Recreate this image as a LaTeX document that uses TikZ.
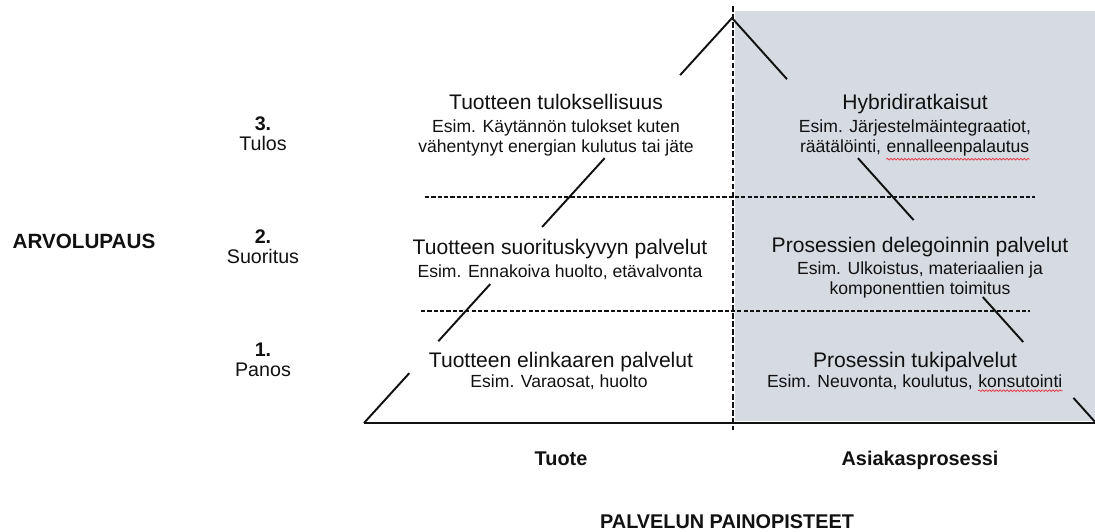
\documentclass[tikz,border=0pt]{standalone}
\usepackage{fontspec}
\setmainfont{Liberation Sans}
\usepackage{tikz}
\usetikzlibrary{calc,decorations.pathmorphing}
\definecolor{panel}{HTML}{D6DAE1}
\definecolor{ink}{HTML}{111111}
\definecolor{spell}{HTML}{E8303A}
\newcommand\spellwave[1]{\tikz[baseline=(w.base)]{\node[inner sep=0pt] (w) {#1};
  \draw[spell, line width=0.4pt, decorate, decoration={snake, amplitude=0.5pt, segment length=2pt}]
    ([yshift=-1.8pt]w.south west) -- ([yshift=-1.8pt]w.south east);}}
\tikzset{
  head/.style={font=\fontsize{12}{14}\selectfont, inner sep=0pt, anchor=base, text=ink},
  note/.style={font=\fontsize{10}{12}\selectfont, inner sep=0pt, anchor=base, text=ink},
  level/.style={font=\fontsize{11.2}{13}\selectfont, inner sep=0pt, anchor=base, text=ink},
  axis/.style={font=\bfseries\fontsize{11.3}{13}\selectfont, inner sep=0pt, anchor=base, text=ink},
  side/.style={line width=1.1pt, draw=ink},
  sep/.style={dash pattern=on 2.4pt off 1.2pt, line width=0.6pt, draw=ink}
}
\begin{document}
\begin{tikzpicture}[x=0.02cm,y=-0.02cm]
  \useasboundingbox (0,0) rectangle (1095,531);
  % process side
  \fill[panel] (735,11) rectangle (1095,421);
  \coordinate (top) at (733,6);
  \coordinate (foot) at (733,430);
  \draw[dash pattern=on 3.2pt off 1.4pt, line width=1pt, draw=ink] (top) -- (foot);

  % level separators
  \coordinate (s2a) at (425,197); \coordinate (s2b) at (1035,197);
  \coordinate (s1a) at (421,311); \coordinate (s1b) at (1030,311);
  \draw[sep] (s2a) -- (s2b);
  \draw[sep] (s1a) -- (s1b);

  % pyramid
  \coordinate (apex) at (732,18);
  \coordinate (bl) at (364,423);
  \coordinate (br) at (1096,423);
  \draw[side] ($(apex)!0.141!(bl)$) -- (apex) -- ($(apex)!0.151!(br)$);
  \foreach \a/\b in {0.346/0.516, 0.657/0.798, 0.877/1}
    \draw[side] ($(apex)!\a!(bl)$) -- ($(apex)!\b!(bl)$);
  \foreach \a/\b in {0.346/0.499, 0.689/0.8, 0.938/1}
    \draw[side] ($(apex)!\a!(br)$) -- ($(apex)!\b!(br)$);
  \draw[line width=1.3pt, draw=ink] (bl) -- (br);

  % levels
  \node[level] (n3) at (263,130) {\textbf{3.}};
  \node[level] (lv3) at (263,150) {Tulos};
  \node[level] (n2) at (263,243) {\textbf{2.}};
  \node[level] (lv2) at (263,263) {Suoritus};
  \node[level] (n1) at (263,356) {\textbf{1.}};
  \node[level] (lv1) at (263,376) {Panos};
  \node[axis,font=\bfseries\fontsize{11.75}{13}\selectfont] (promise) at (84,248) {ARVOLUPAUS};

  % product column
  \node[head] (res) at (556,109) {Tuotteen tuloksellisuus};
  \node[note] (resa) at (556,132) {Esim. Käytännön tulokset kuten};
  \node[note] (resb) at (556,152) {vähentynyt energian kulutus tai jäte};
  \node[head] (perf) at (560,254) {Tuotteen suorituskyvyn palvelut};
  \node[note] (perfa) at (560,277) {Esim. Ennakoiva huolto, etävalvonta};
  \node[head] (life) at (561,367) {Tuotteen elinkaaren palvelut};
  \node[note] (lifea) at (559,387) {Esim. Varaosat, huolto};

  % customer process column
  \node[head] (hyb) at (915,109) {Hybridiratkaisut};
  \node[note] (hyba) at (915,132) {Esim. Järjestelmäintegraatiot,};
  \node[note] (hybb) at (915,152) {räätälöinti, \spellwave{ennalleenpalautus}};
  \node[head] (deleg) at (920,252) {Prosessien delegoinnin palvelut};
  \node[note] (delega) at (920,274) {Esim. Ulkoistus, materiaalien ja};
  \node[note] (delegb) at (920,294) {komponenttien toimitus};
  \node[head] (supp) at (915,367) {Prosessin tukipalvelut};
  \node[note] (suppa) at (915,387) {Esim. Neuvonta, koulutus, \spellwave{konsutointi}};

  % focus axis
  \node[axis] (prod) at (561,465) {Tuote};
  \node[axis] (proc) at (920,465) {Asiakasprosessi};
  \node[axis] (focus) at (727,528) {PALVELUN PAINOPISTEET};
\end{tikzpicture}
\end{document}
